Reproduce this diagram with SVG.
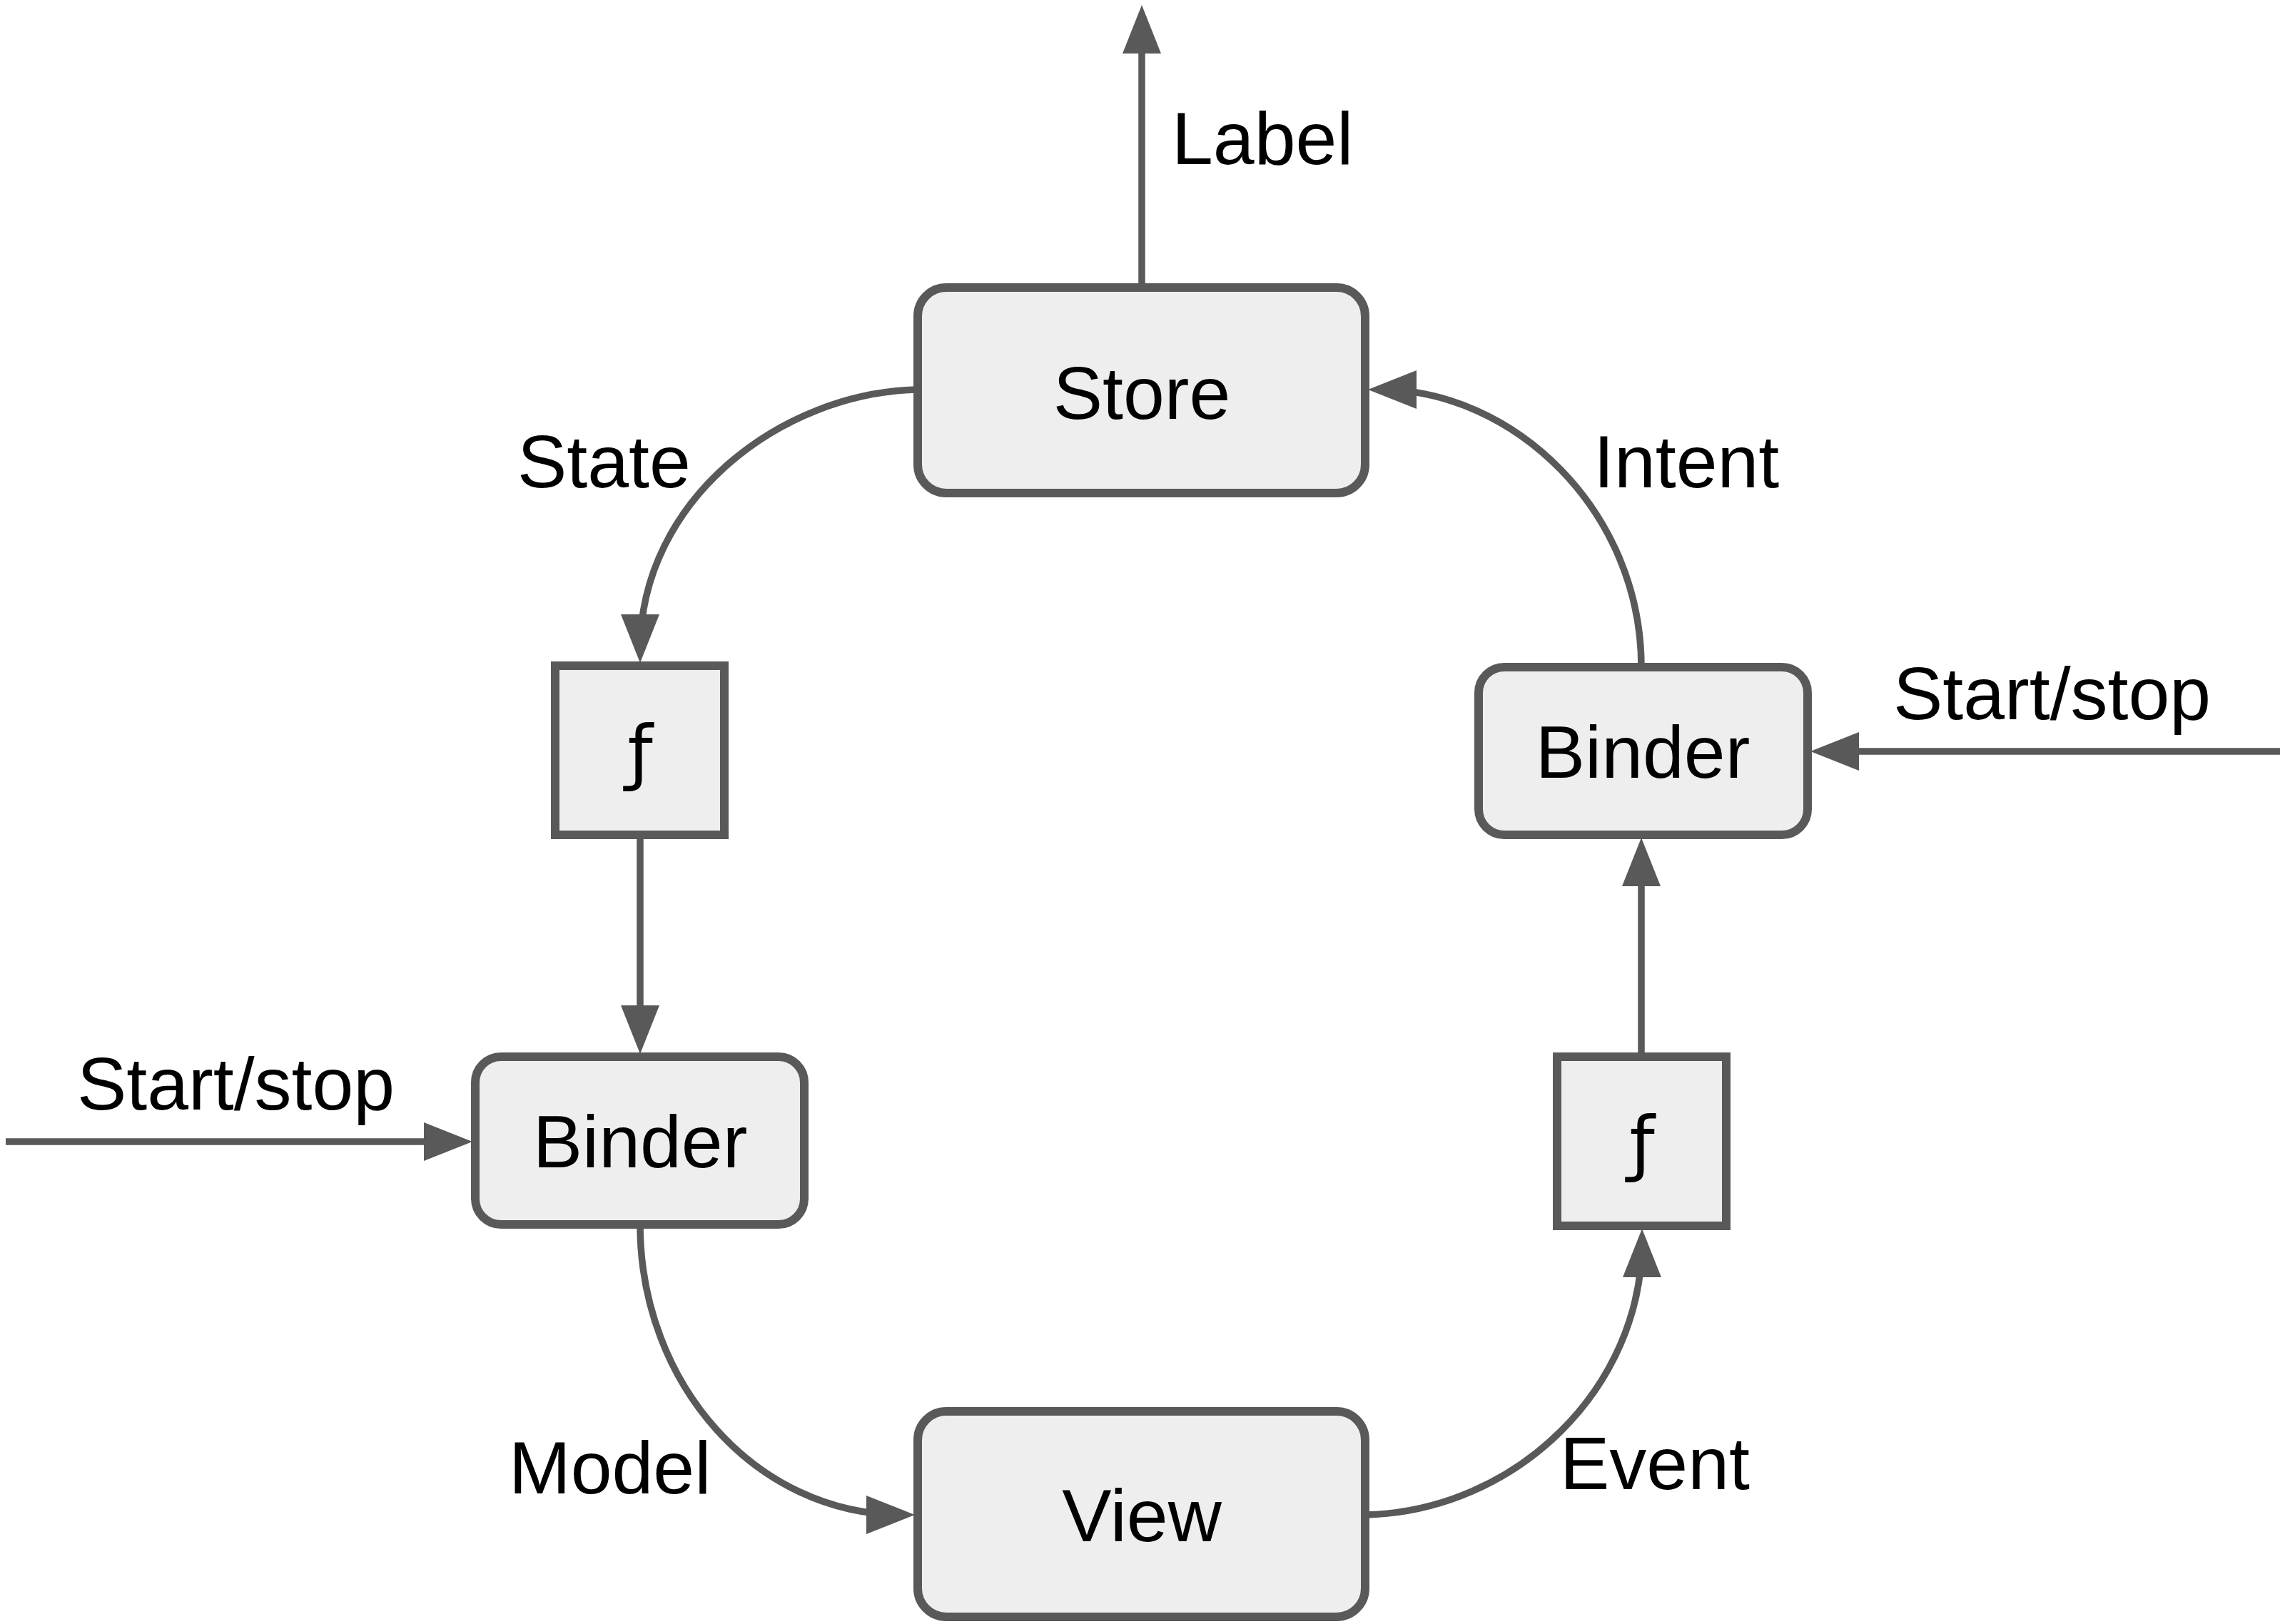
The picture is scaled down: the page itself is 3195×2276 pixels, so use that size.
<svg xmlns="http://www.w3.org/2000/svg" width="3195" height="2276" viewBox="0 0 3195 2276">
  <style>
    .box { fill: #eeeeee; stroke: #595959; stroke-width: 12; }
    .edge { fill: none; stroke: #595959; stroke-width: 9.5; }
    .lbl { font-family: "Liberation Sans", Arial, sans-serif; font-size: 104px; fill: #000000; }
    .fn { font-family: "DejaVu Sans", sans-serif; font-size: 100px; fill: #000000; text-anchor: middle; }
    .mid { text-anchor: middle; }
  </style>
  <defs>
    <!-- tip sits 18 units past the path end so the stroke stays hidden under the head -->
    <marker id="arrow" viewBox="0 0 68 54" refX="50" refY="27" markerWidth="68" markerHeight="54" markerUnits="userSpaceOnUse" orient="auto">
      <path d="M0,0 L68,27 L0,54 Z" fill="#595959"/>
    </marker>
  </defs>
  <rect width="3195" height="2276" fill="#ffffff"/>

  <g id="connectors">
    <!-- Store output -->
    <path class="edge" d="M1600,403 L1600,25" marker-end="url(#arrow)"/>
    <!-- Store -> left f (State) -->
    <path class="edge" d="M1286,546 C1095,550 897,700 897,911" marker-end="url(#arrow)"/>
    <!-- left f -> left Binder -->
    <path class="edge" d="M897,1170 L897,1459" marker-end="url(#arrow)"/>
    <!-- external start/stop -> left Binder -->
    <path class="edge" d="M8,1600 L644,1600" marker-end="url(#arrow)"/>
    <!-- left Binder -> View (Model) -->
    <path class="edge" d="M897,1716 C897,1940 1060,2123 1264,2123" marker-end="url(#arrow)"/>
    <!-- View -> right f (Event) -->
    <path class="edge" d="M1913,2123 C2125,2118 2301,1945 2301,1740" marker-end="url(#arrow)"/>
    <!-- right f -> right Binder -->
    <path class="edge" d="M2300,1481 L2300,1192" marker-end="url(#arrow)"/>
    <!-- external start/stop -> right Binder -->
    <path class="edge" d="M3195,1053 L2555,1053" marker-end="url(#arrow)"/>
    <!-- right Binder -> Store (Intent) -->
    <path class="edge" d="M2300,935 C2300,715 2120,546 1935,546" marker-end="url(#arrow)"/>
  </g>

  <g id="store">
    <rect class="box" x="1286" y="403" width="627" height="288" rx="40"/>
    <text class="lbl mid" x="1600" y="587">Store</text>
  </g>
  <g id="f-left">
    <rect class="box" x="778" y="933" width="237" height="237"/>
    <text class="fn" x="897" y="1088">ƒ</text>
  </g>
  <g id="binder-left">
    <rect class="box" x="666" y="1481" width="461" height="235" rx="36"/>
    <text class="lbl mid" x="897" y="1636">Binder</text>
  </g>
  <g id="view">
    <rect class="box" x="1286" y="1978" width="627" height="288" rx="40"/>
    <text class="lbl mid" x="1600" y="2160">View</text>
  </g>
  <g id="f-right">
    <rect class="box" x="2182" y="1481" width="237" height="237"/>
    <text class="fn" x="2301" y="1636">ƒ</text>
  </g>
  <g id="binder-right">
    <rect class="box" x="2072" y="935" width="461" height="235" rx="36"/>
    <text class="lbl mid" x="2302" y="1090">Binder</text>
  </g>

  <g id="labels">
    <text class="lbl" x="1642" y="230">Label</text>
    <text class="lbl" x="725" y="683">State</text>
    <text class="lbl" x="2233" y="683">Intent</text>
    <text class="lbl" x="2653" y="1008">Start/stop</text>
    <text class="lbl" x="108" y="1555">Start/stop</text>
    <text class="lbl" x="713" y="2093">Model</text>
    <text class="lbl" x="2186" y="2087">Event</text>
  </g>
</svg>
